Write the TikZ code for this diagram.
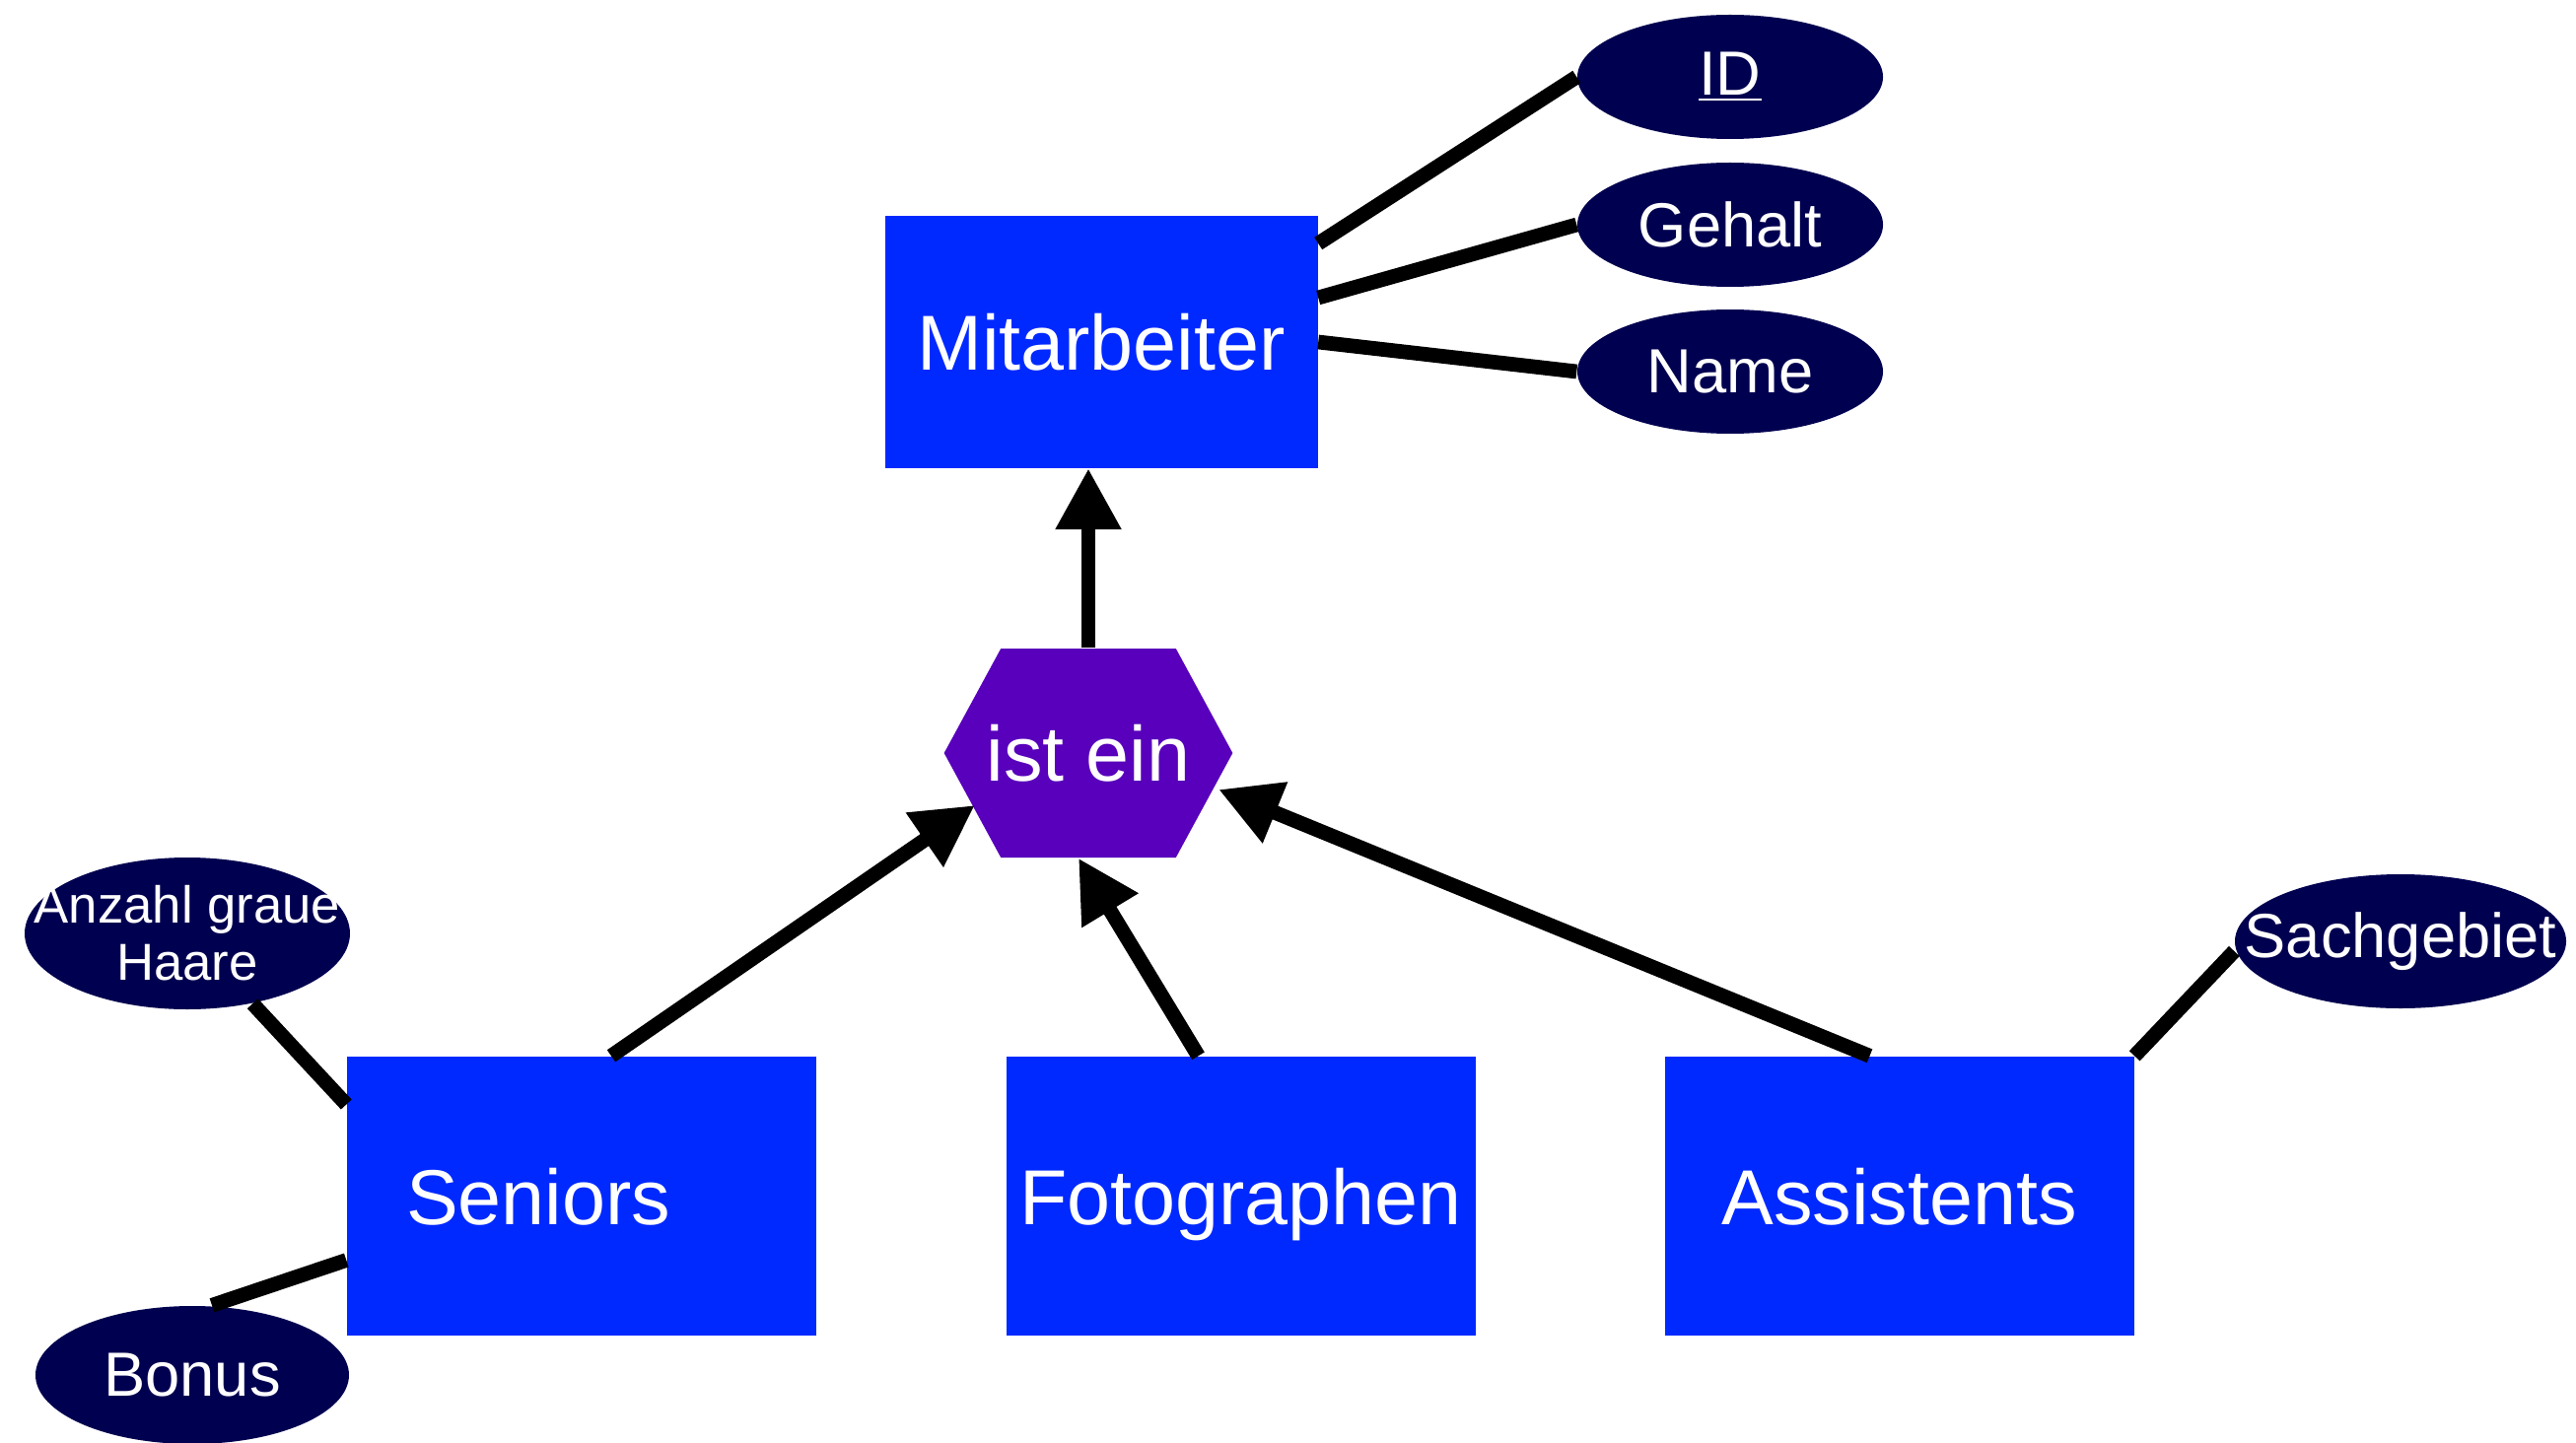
\documentclass[tikz,border=0pt]{standalone}
\usepackage{fontspec}
\setmainfont{Liberation Sans}
\usetikzlibrary{positioning}
\usetikzlibrary{shapes.geometric}
\usetikzlibrary{shapes.symbols}
\usetikzlibrary{arrows.meta}
\definecolor{entblue}{RGB}{0,41,255}
\definecolor{isapurple}{RGB}{88,0,187}
\definecolor{attnavy}{RGB}{0,0,80}

\begin{document}
\begin{tikzpicture}[
        entity/.style={rectangle, fill=entblue, text=white, inner sep=0pt,
            text height=16.3pt, text depth=0pt,
            minimum width=4.76cm, minimum height=2.83cm, font=\fontsize{22.5}{27}\selectfont},
        attrib/.style={ellipse, fill=attnavy, text=white, inner sep=0pt,
            minimum width=3.1cm, minimum height=1.26cm, font=\fontsize{18}{21}\selectfont},
        isa/.style={signal, signal to=west and east, signal pointer angle=123,
            fill=isapurple, text=white, inner sep=0pt, inner xsep=-1.45mm,
            minimum height=2.12cm, font=\fontsize{22.5}{27}\selectfont},
        conn/.style={line width=4.2pt},
        arr/.style={line width=4.2pt,-{Triangle[length=0.62cm,width=0.63cm]}}
        ]
        \useasboundingbox (0,0) rectangle (26.13,-14.64);
        \node (mit) [entity, minimum width=4.39cm, minimum height=2.55cm] at (11.17,-3.47) {Mitarbeiter};
        \node (id) [attrib] at (17.55,-0.78) {\underline{ID}};
        \node (geh) [attrib] at (17.55,-2.28) {Gehalt};
        \node (nam) [attrib] at (17.55,-3.77) {Name};
        \draw[conn] ([yshift=10mm]mit.east) -- (id.west);
        \draw[conn] ([yshift=4.5mm]mit.east) -- (geh.west);
        \draw[conn] (mit.east) -- (nam.west);
        \node (hex) [isa] at (11.04,-7.64) {ist ein};
        \draw[arr] (hex.north) -- (hex.north |- mit.south);
        \node (sen) [entity, align=left, text width=3.56cm, inner xsep=0.6cm] at (5.90,-12.135) {Seniors};
        \node (fot) [entity] at (12.585,-12.135) {Fotographen};
        \node (ass) [entity] at (19.265,-12.135) {Assistents};
        \draw[arr] ([xshift=3mm]sen.north) -- ([xshift=3.2mm,yshift=-5.3mm]hex.west);
        \draw[arr] ([xshift=-4.3mm]fot.north) -- ([xshift=-1mm]hex.south);
        \draw[arr] ([xshift=-3mm]ass.north) -- ([xshift=-1.5mm,yshift=-3.7mm]hex.east);
        \node (anz) [attrib, align=center, inner xsep=-4mm, minimum width=3.3cm, minimum height=1.54cm,
            font=\fontsize{15}{16.5}\selectfont] at (1.90,-9.47) {Anzahl graue\\Haare};
        \node (bon) [attrib, minimum width=3.18cm, minimum height=1.4cm] at (1.95,-13.95) {Bonus};
        \node (sach) [attrib, inner xsep=-4mm, minimum width=3.36cm, minimum height=1.36cm] at (24.35,-9.55) {Sachgebiet};
        \draw[conn] (anz) -- ([yshift=9.3mm]sen.west);
        \draw[conn] ([xshift=2mm]bon.north) -- ([yshift=-6.5mm]sen.west);
        \draw[conn] (ass.north east) -- ([yshift=-1mm]sach.west);
    \end{tikzpicture}
\end{document}
